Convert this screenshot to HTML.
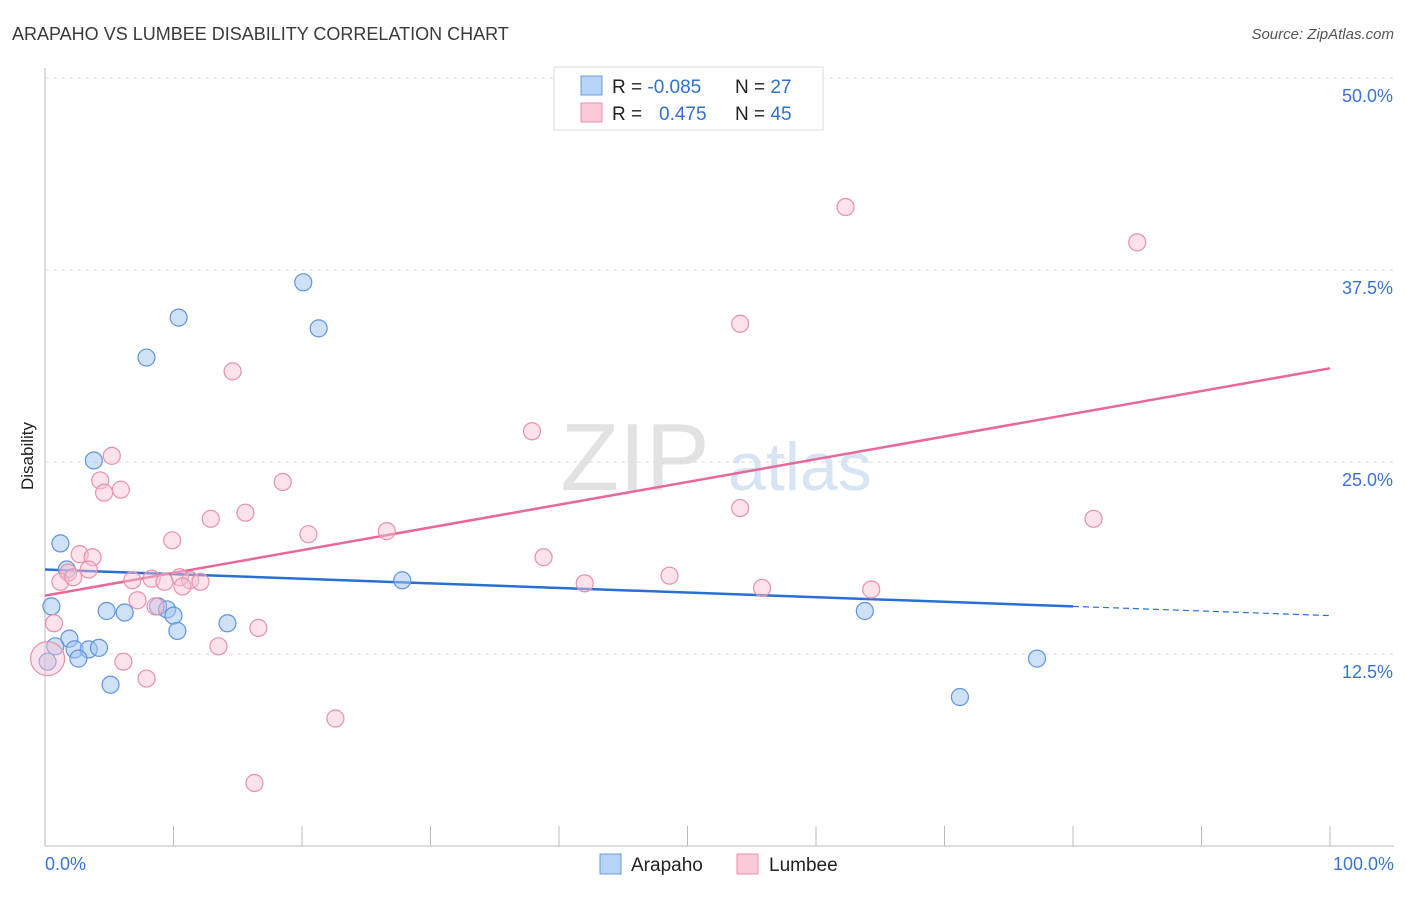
<!DOCTYPE html>
<html><head><meta charset="utf-8"><style>
body{margin:0;background:#fff;font-family:"Liberation Sans",sans-serif;}
svg text{font-family:"Liberation Sans",sans-serif;}
</style></head><body>
<svg width="1406" height="892">
<text x="12" y="40" font-size="18" fill="#3a3a3a">ARAPAHO VS LUMBEE DISABILITY CORRELATION CHART</text>
<text x="1394" y="39" font-size="15" fill="#555" font-style="italic" text-anchor="end">Source: ZipAtlas.com</text>
<text x="0" y="0" transform="translate(33,456) rotate(-90)" font-size="17" fill="#222" text-anchor="middle">Disability</text>
<g>
<text x="635" y="490" font-size="96" fill="#e2e2e2" font-family="Liberation Serif" text-anchor="middle">ZIP</text>
<text x="800" y="490" font-size="68" fill="#d6e4f4" text-anchor="middle">atlas</text>
</g>
<g id="grid"></g><g id="axes"></g><g id="trends"></g><g id="pts"></g>
<g>
<rect x="554" y="67" width="269" height="63" fill="#fff" stroke="#ddd"/>
<rect x="581" y="76" width="21" height="19" fill="#b7d3f6" stroke="#6d9be0"/>
<rect x="581" y="103" width="21" height="19" fill="#fcc9d9" stroke="#e891ad"/>
<text x="612" y="93" font-size="19" fill="#222">R = <tspan fill="#2f6fd6">-0.085</tspan><tspan x="735">N = </tspan><tspan fill="#2f6fd6">27</tspan></text>
<text x="612" y="120" font-size="19" fill="#222">R = <tspan x="659" fill="#2f6fd6">0.475</tspan><tspan x="735">N = </tspan><tspan fill="#2f6fd6">45</tspan></text>
</g>
<g>
<rect x="600" y="854" width="21" height="20" fill="#b7d3f6" stroke="#6d9be0"/>
<text x="631" y="871" font-size="19" fill="#222">Arapaho</text>
<rect x="737" y="854" width="21" height="20" fill="#fcc9d9" stroke="#e891ad"/>
<text x="769" y="871" font-size="19" fill="#222">Lumbee</text>
</g>
</svg>
<script>
const yTicks=[12.5,25,37.5,50];
const yTickLabels=["12.5%","25.0%","37.5%","50.0%"];
const xTicks=[0,10,20,30,40,50,60,70,80,90,100];
const arapahoX=[20.1,10.4,21.3,7.9,3.8,1.2,1.7,27.8,0.5,4.8,6.2,8.8,9.5,10.0,10.3,14.2,63.8,1.9,0.8,2.3,3.4,4.2,2.6,0.2,5.1,77.2,71.2];
const arapahoY=[36.7,34.4,33.7,31.8,25.1,19.7,18.0,17.3,15.6,15.3,15.2,15.6,15.4,15.0,14.0,14.5,15.3,13.5,13.0,12.8,12.8,12.9,12.2,12.0,10.5,12.2,9.7];
const lumbeeX=[62.3,85.0,54.1,14.6,37.9,5.2,4.3,4.6,5.9,18.5,12.9,15.6,54.1,81.6,20.5,26.6,9.9,2.7,3.7,38.8,1.8,3.4,1.2,2.2,6.8,8.3,10.5,9.3,11.3,12.1,10.7,42.0,48.6,55.8,64.3,7.2,8.6,0.7,16.6,13.5,6.1,7.9,22.6,16.3,0.2];
const lumbeeY=[41.6,39.3,34.0,30.9,27.0,25.4,23.8,23.0,23.2,23.7,21.3,21.7,22.0,21.3,20.3,20.5,19.9,19.0,18.8,18.8,17.8,18.0,17.2,17.5,17.3,17.4,17.5,17.2,17.3,17.2,16.9,17.1,17.6,16.8,16.7,16.0,15.6,14.5,14.2,13.0,12.0,10.9,8.3,4.1,12.2];
const arapahoTrend=[18.0,15.0];
const lumbeeTrend=[16.3,31.1];
const NS="http://www.w3.org/2000/svg";
const sx=v=>45+v*12.85, sy=v=>846-v*15.36;
function mk(t,a,p){const e=document.createElementNS(NS,t);for(const k in a)e.setAttribute(k,a[k]);document.getElementById(p).appendChild(e);return e;}
yTicks.forEach((t,i)=>{
 const l=mk('line',{x1:45,x2:1394,y1:sy(t),y2:sy(t),stroke:'#ddd','stroke-dasharray':'4,4'},'grid');
 
 
 const tx=mk('text',{x:1393,y:sy(t)+24,'font-size':18,fill:'#3b73d4','text-anchor':'end'},'axes');
 tx.textContent=yTickLabels[i];
 
 
});
const al=mk('line',{x1:45,x2:45,y1:68,y2:846,stroke:'#bbb'},'axes');


const xl=mk('line',{x1:45,x2:1394,y1:846,y2:846,stroke:'#bbb'},'axes');


xTicks.forEach(t=>{const k=mk('line',{x1:sx(t),x2:sx(t),y1:826,y2:846,stroke:'#bbb'},'axes');
 
 });
[["0.0%",45,"start"],["100.0%",1394,"end"]].forEach(d=>{const t=mk('text',{x:d[1],y:870,'font-size':18,fill:'#3b73d4','text-anchor':d[2]},'axes');t.textContent=d[0];
 
 });
const bt=(x)=>arapahoTrend[0]+(arapahoTrend[1]-arapahoTrend[0])*x/100;
const b1=mk('line',{x1:sx(0),y1:sy(bt(0)),x2:sx(80),y2:sy(bt(80)),stroke:'#2a6fd6','stroke-width':2.5},'trends');


const b2=mk('line',{x1:sx(80),y1:sy(bt(80)),x2:sx(100),y2:sy(bt(100)),stroke:'#2a6fd6','stroke-width':1.2,'stroke-dasharray':'6,4'},'trends');


const pl=mk('line',{x1:sx(0),y1:sy(lumbeeTrend[0]),x2:sx(100),y2:sy(lumbeeTrend[1]),stroke:'#e8689a','stroke-width':2.5},'trends');


arapahoX.forEach((x,i)=>{const c=mk('circle',{cx:sx(x),cy:sy(arapahoY[i]),r:8.5,fill:'rgba(160,196,240,0.5)',stroke:'#5f95e0','stroke-width':1.2},'pts');
 
 });
lumbeeX.forEach((x,i)=>{const c=mk('circle',{cx:sx(x),cy:sy(lumbeeY[i]),r:i==44?17:8.5,fill:'rgba(248,190,210,0.45)',stroke:'#e891ad','stroke-width':1.2},'pts');
 
 });
</script>
</body></html>
